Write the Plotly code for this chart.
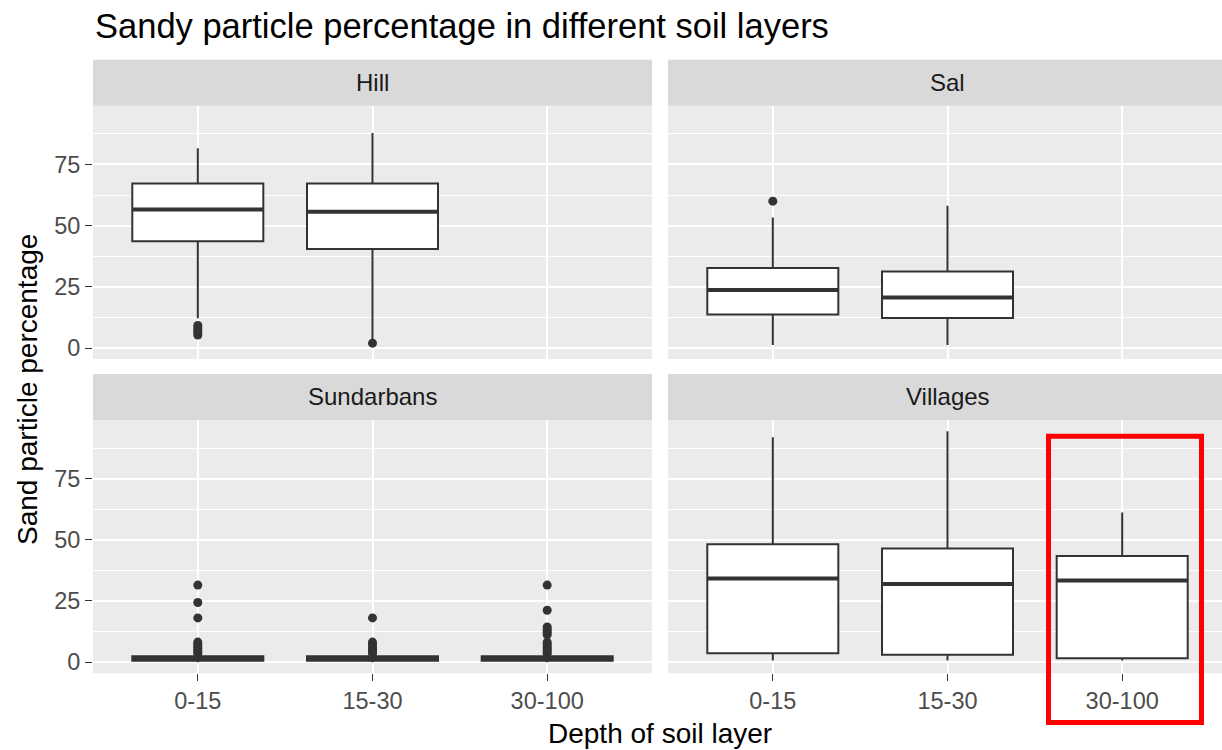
import plotly.graph_objects as go

# Depth classes on the x axis and facet regions
depths = ["0-15", "15-30", "30-100"]
regions = ["Hill", "Sal", "Sundarbans", "Villages"]

# Five-number summaries per region (lower whisker, Q1, median, Q3, upper whisker)
hill_lower = [12.2, 3.2]
hill_q1 = [43.6, 40.5]
hill_median = [56.6, 55.7]
hill_q3 = [67.2, 67.2]
hill_upper = [81.6, 87.9]
hill_outliers = [[5.3, 6.3, 7.3, 8.3, 9.2], [2.0]]

sal_lower = [1.2, 1.2]
sal_q1 = [13.7, 12.3]
sal_median = [23.7, 20.6]
sal_q3 = [32.7, 31.3]
sal_upper = [53.3, 58.1]
sal_outliers = [[60.0], []]

sund_lower = [0.0, 0.0, 0.0]
sund_q1 = [0.6, 0.6, 0.6]
sund_median = [1.5, 1.5, 1.5]
sund_q3 = [2.4, 2.4, 2.4]
sund_upper = [3.0, 3.0, 3.0]
sund_outliers = [
    [3.5, 4.2, 5.0, 5.8, 6.6, 7.4, 8.2, 18.1, 24.4, 31.5],
    [3.5, 4.2, 5.0, 5.8, 6.6, 7.4, 8.2, 18.1],
    [3.5, 4.2, 5.0, 5.8, 6.6, 7.4, 8.2, 11.2, 12.0, 12.8, 13.6, 14.4, 21.2, 31.5],
]

vill_lower = [0.7, 0.7, 0.7]
vill_q1 = [3.7, 3.0, 1.6]
vill_median = [34.2, 31.9, 33.4]
vill_q3 = [48.2, 46.5, 43.4]
vill_upper = [91.9, 94.4, 61.2]
vill_outliers = [[], [], []]

y_major = [0, 25, 50, 75]
y_minor = [12.5, 37.5, 62.5, 87.5]

W, H = 1222, 750
BOX_W = 0.75
INK = "#333333"
FONT = "Liberation Sans, Arial, sans-serif"


def px(x):
    return x / W


def py(y):
    return 1 - y / H


fig = go.Figure()

panels = [
    ("x", "y", hill_lower, hill_q1, hill_median, hill_q3, hill_upper, hill_outliers),
    ("x2", "y2", sal_lower, sal_q1, sal_median, sal_q3, sal_upper, sal_outliers),
    ("x3", "y3", sund_lower, sund_q1, sund_median, sund_q3, sund_upper, sund_outliers),
    ("x4", "y4", vill_lower, vill_q1, vill_median, vill_q3, vill_upper, vill_outliers),
]

for xa, ya, lo, q1, med, q3, up, outs in panels:
    for i in range(len(q1)):
        fig.add_trace(go.Box(
            x=[i], q1=[q1[i]], median=[med[i]], q3=[q3[i]],
            lowerfence=[lo[i]], upperfence=[up[i]],
            width=BOX_W, whiskerwidth=0, boxpoints=False,
            fillcolor="white", line=dict(color=INK, width=2),
            xaxis=xa, yaxis=ya, showlegend=False, hoverinfo="skip",
        ))
        # thicker median bar
        fig.add_trace(go.Scatter(
            x=[i - BOX_W / 2, i + BOX_W / 2], y=[med[i], med[i]],
            mode="lines", line=dict(color=INK, width=4),
            xaxis=xa, yaxis=ya, showlegend=False, hoverinfo="skip",
        ))
        if outs[i]:
            fig.add_trace(go.Scatter(
                x=[i] * len(outs[i]), y=outs[i], mode="markers",
                marker=dict(color=INK, size=9),
                xaxis=xa, yaxis=ya, showlegend=False, hoverinfo="skip",
            ))

# panel geometry in pixels
left_col = (93, 652)
right_col = (668, 1222)
top_row = (106, 360)
bot_row = (421, 675)
strip_h = 46
unit = (left_col[1] - left_col[0]) / 3.2
right_hi = (right_col[1] - right_col[0]) / unit - 0.6

tick_font = dict(family=FONT, size=23.5, color="#4D4D4D")


def xaxis_cfg(col, show):
    hi = 2.6 if col == left_col else right_hi
    return dict(
        domain=[px(col[0]), px(col[1])], range=[-0.6, hi],
        tickmode="array", tickvals=[0, 1, 2], ticktext=depths,
        showticklabels=show, ticks="outside" if show else "",
        ticklen=7, tickwidth=1.3, tickcolor=INK, tickfont=tick_font,
        showgrid=True, gridcolor="white", gridwidth=2.2,
        zeroline=False, showline=False, fixedrange=True,
    )


def yaxis_cfg(row, show, anchor):
    return dict(
        domain=[py(row[1]), py(row[0])], range=[-4.5, 99],
        tickmode="array", tickvals=y_major, ticktext=[str(v) for v in y_major],
        showticklabels=show, ticks="outside" if show else "",
        ticklen=7, tickwidth=1.3, tickcolor=INK, tickfont=tick_font,
        showgrid=True, gridcolor="white", gridwidth=2.2,
        minor=dict(tickmode="array", tickvals=y_minor, showgrid=True,
                   gridcolor="white", gridwidth=1.1, ticks=""),
        zeroline=False, showline=False, fixedrange=True, anchor=anchor,
    )


fig.update_layout(
    width=W, height=H, autosize=False,
    margin=dict(l=0, r=0, t=0, b=0),
    paper_bgcolor="white", plot_bgcolor="#EBEBEB",
    xaxis=dict(**xaxis_cfg(left_col, False), anchor="y"),
    yaxis=yaxis_cfg(top_row, True, "x"),
    xaxis2=dict(**xaxis_cfg(right_col, False), anchor="y2"),
    yaxis2=yaxis_cfg(top_row, False, "x2"),
    xaxis3=dict(**xaxis_cfg(left_col, True), anchor="y3"),
    yaxis3=yaxis_cfg(bot_row, True, "x3"),
    xaxis4=dict(**xaxis_cfg(right_col, True), anchor="y4"),
    yaxis4=yaxis_cfg(bot_row, False, "x4"),
)

shapes = []
annotations = []
strip_font = dict(family=FONT, size=24, color="#1A1A1A")
for name, col, row in [
    ("Hill", left_col, top_row), ("Sal", right_col, top_row),
    ("Sundarbans", left_col, bot_row), ("Villages", right_col, bot_row),
]:
    shapes.append(dict(
        type="rect", xref="paper", yref="paper",
        x0=px(col[0]), x1=px(col[1]), y0=py(row[0]), y1=py(row[0] - strip_h),
        fillcolor="#D9D9D9", line=dict(width=0), layer="below",
    ))
    annotations.append(dict(
        text=name, xref="paper", yref="paper", showarrow=False,
        x=px((col[0] + col[0] + 559) / 2), y=py(row[0] - strip_h / 2),
        xanchor="center", yanchor="middle", font=strip_font,
    ))

# highlight frame around the deepest village layer
shapes.append(dict(
    type="rect", xref="paper", yref="paper",
    x0=px(1048.5), x1=px(1201.5), y0=py(724.5), y1=py(437.5),
    line=dict(color="#FF0000", width=5), fillcolor="rgba(0,0,0,0)",
))

annotations += [
    dict(text="Sandy particle percentage in different soil layers",
         xref="paper", yref="paper", x=px(93), y=py(26), showarrow=False,
         xanchor="left", yanchor="middle",
         font=dict(family=FONT, size=34.5, color="black")),
    dict(text="Depth of soil layer", xref="paper", yref="paper",
         x=px(660), y=py(735), showarrow=False, xanchor="center", yanchor="middle",
         font=dict(family=FONT, size=28, color="black")),
    dict(text="Sand particle percentage", xref="paper", yref="paper",
         x=px(28), y=py(391), showarrow=False, textangle=-90,
         xanchor="center", yanchor="middle",
         font=dict(family=FONT, size=28, color="black")),
]

fig.update_layout(shapes=shapes, annotations=annotations)
fig.write_html("out.html")
